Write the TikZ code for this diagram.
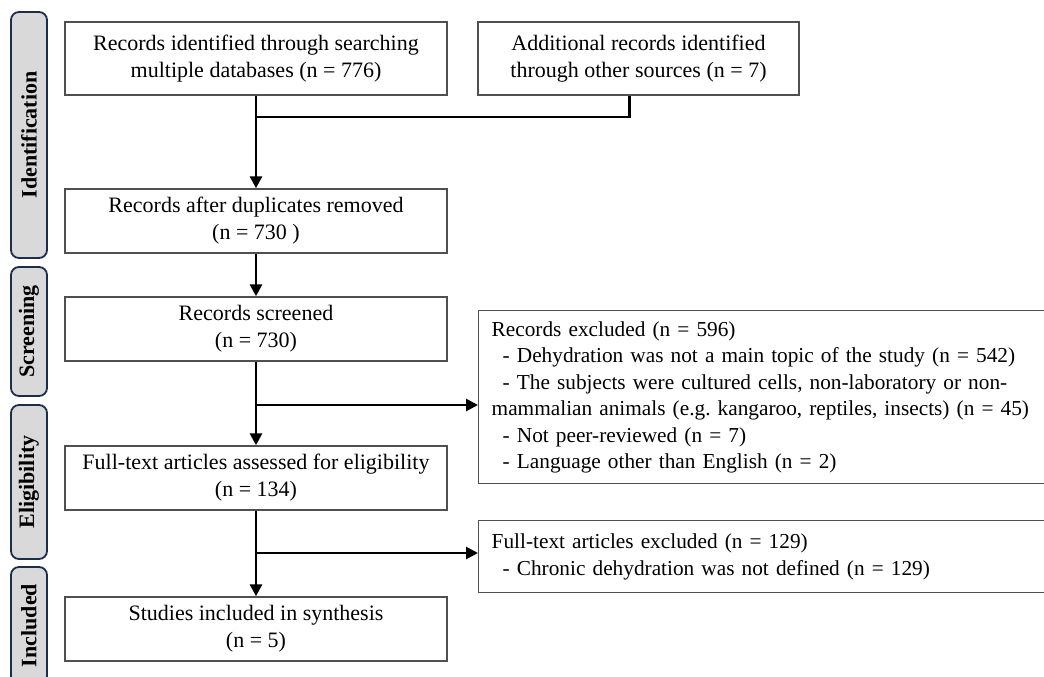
\documentclass[tikz,border=0pt]{standalone}
\usepackage{fontspec}
\setmainfont{Liberation Serif}
\usetikzlibrary{arrows.meta}
\definecolor{phasefill}{HTML}{D9D9D9}
\definecolor{phaseline}{HTML}{1F2D4D}
\definecolor{boxline}{HTML}{505050}
\newcommand\exclfont{\fontsize{21.3}{26.5}\selectfont\frenchspacing\setlength{\spaceskip}{0.22em plus 0.1em minus 0.05em}}

\begin{document}
\begin{tikzpicture}[x=1pt,y=-1pt,font=\fontsize{22}{27}\selectfont,
  box/.style={draw=boxline,line width=1.4pt,align=center,inner sep=0pt,minimum width=382pt,minimum height=64pt},
  exclbox/.style={draw=boxline,line width=1.4pt,align=left,anchor=north west,text width=560pt,inner xsep=13pt,inner ysep=0pt,font=\exclfont},
  phase/.style={draw=phaseline,fill=phasefill,line width=1.8pt,rounded corners=8pt,rotate=90,minimum height=36pt,inner sep=0pt,font=\fontsize{22}{27}\selectfont\bfseries},
  flow/.style={line width=2.8pt,-{Triangle[length=12pt,width=12pt]}},
  mergeline/.style={line width=2.8pt}]
  \useasboundingbox (0,0) rectangle (1044,677);
  \clip (0,0) rectangle (1044,677);
  % phase labels on the left
  \foreach \n/\y/\len/\lab in {1/135/246/Identification,2/331.5/129/Screening,3/482/154/Eligibility,4/625.5/117/Included}
    \node[phase,minimum width=\len] (ph\n) at (29,\y) {\lab};
  % main column
  \node[box,minimum height=73pt] (search) at (256,58.5) {Records identified through searching\\multiple databases (n = 776)};
  \node[box,minimum width=321pt,minimum height=73pt] (other) at (638.5,58.5) {Additional records identified\\through other sources (n = 7)};
  \node[box] (dedup) at (256,221) {Records after duplicates removed\\(n = 730 )};
  \node[box] (screen) at (256,329) {Records screened\\(n = 730)};
  \node[box] (fulltext) at (256,478) {Full-text articles assessed for eligibility\\(n = 134)};
  \node[box] (incl) at (256,629) {Studies included in synthesis\\(n = 5)};
  % exclusion boxes
  \node[exclbox,minimum height=173pt] (excl) at (478,310) {Records excluded (n = 596)\\
    \hspace*{11pt}- Dehydration was not a main topic of the study (n = 542)\\
    \hspace*{11pt}- The subjects were cultured cells, non-laboratory or non-\\
    mammalian animals (e.g. kangaroo, reptiles, insects) (n = 45)\\
    \hspace*{11pt}- Not peer-reviewed (n = 7)\\
    \hspace*{11pt}- Language other than English (n = 2)};
  \node[exclbox,minimum height=72pt] (ftexcl) at (478,520) {Full-text articles excluded (n = 129)\\
    \hspace*{11pt}- Chronic dehydration was not defined (n = 129)};
  % connectors
  \coordinate (merge) at (256,117);
  \coordinate (split1) at (256,405);
  \coordinate (split2) at (256,553);
  \draw[mergeline] (search.south) -- (merge);
  \draw[mergeline] ([xshift=-9pt]other.south) |- (merge);
  \draw[flow] (merge) -- (dedup.north);
  \draw[flow] (dedup.south) -- (screen.north);
  \draw[flow] (screen.south) -- (fulltext.north);
  \draw[flow] (split1) -- (split1 -| excl.west);
  \draw[flow] (fulltext.south) -- (incl.north);
  \draw[flow] (split2) -- (split2 -| ftexcl.west);
\end{tikzpicture}
\end{document}
